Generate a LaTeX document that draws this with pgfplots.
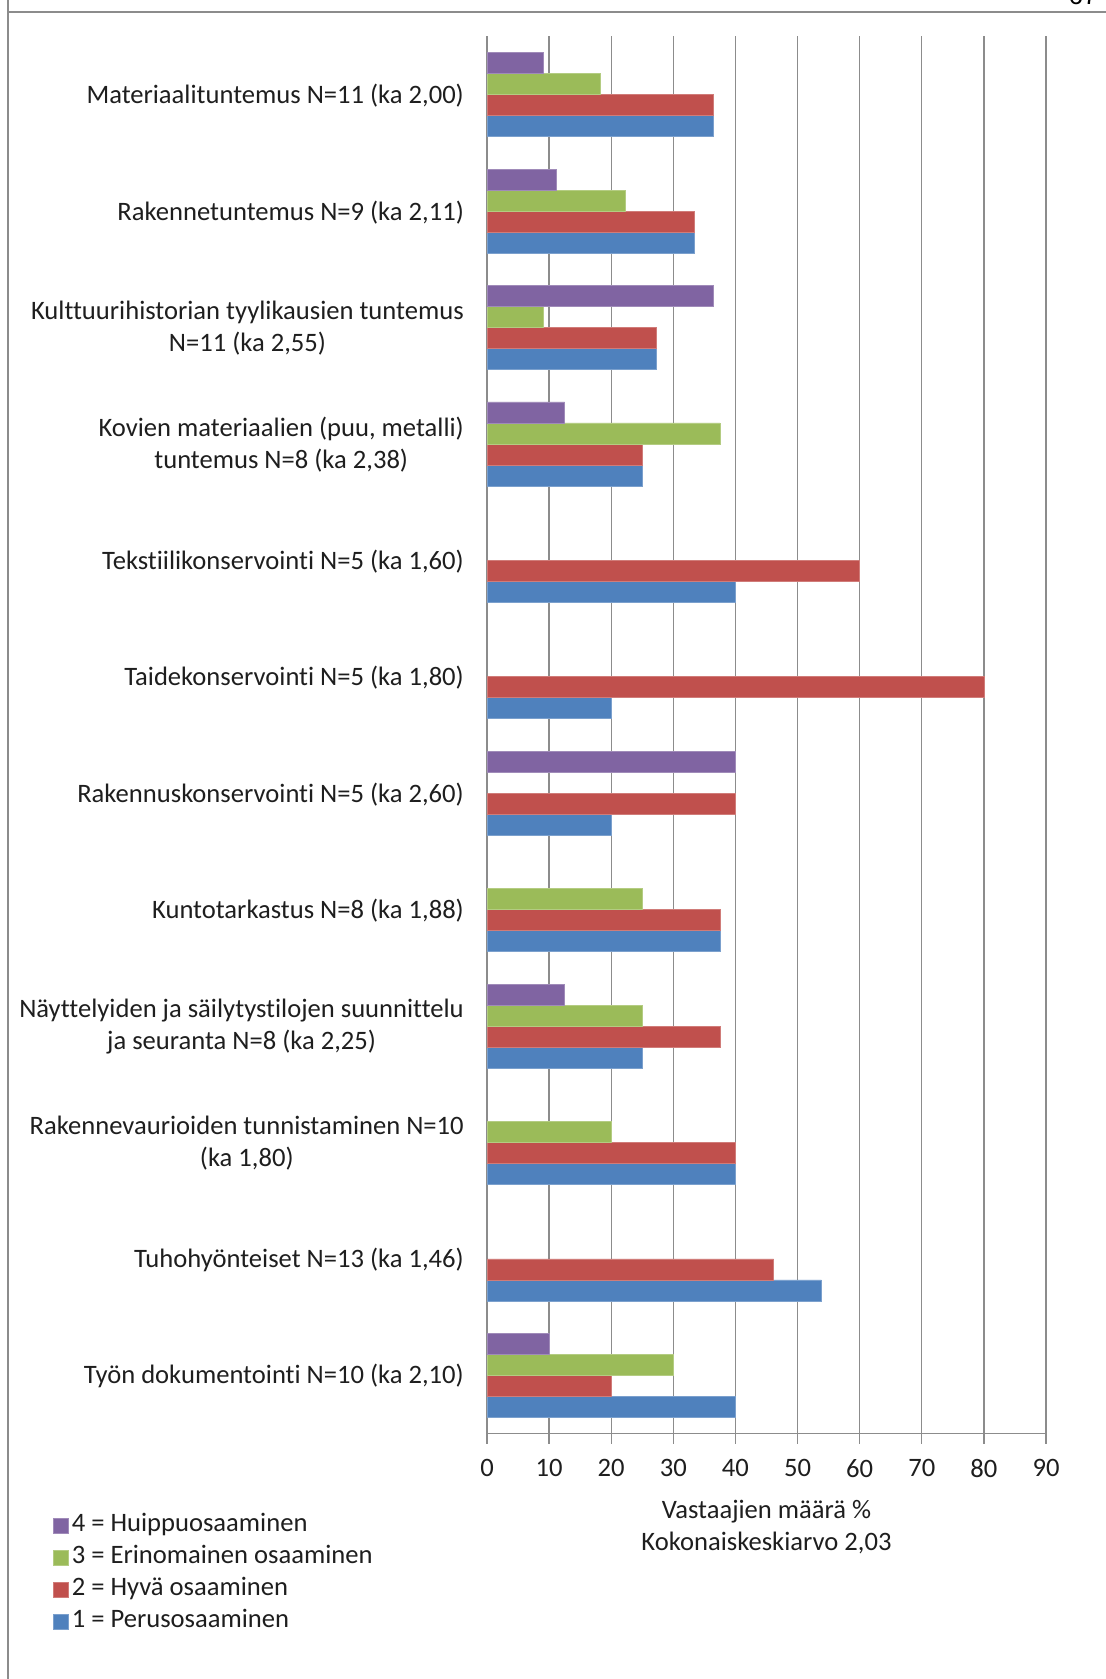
\documentclass[border=0pt]{standalone}
\usepackage{fontspec}
\setmainfont{Carlito}[Ligatures=NoCommon]
\newfontfamily\pagefont{Liberation Sans}
\usepackage{pgfplots}
\pgfplotsset{compat=1.18}

\definecolor{lvl1}{HTML}{4F81BD}
\definecolor{lvl2}{HTML}{C0504D}
\definecolor{lvl3}{HTML}{9BBB59}
\definecolor{lvl4}{HTML}{8064A2}
\definecolor{gridgray}{RGB}{140,140,140}
\definecolor{txt}{RGB}{30,30,30}

\newcommand\chartfont{\fontsize{26.6bp}{32bp}\selectfont}

\pgfplotsset{
  sqlegend/.style={legend image code/.code={%
      \fill[##1] (0bp,-7.5bp) rectangle (15bp,7.5bp);}},
}

\begin{document}
\chartfont
\begin{tikzpicture}
% page frame and page number
\draw[gridgray, line width=2bp] (8bp,1700bp) -- (8bp,1667bp) -- (1130bp,1667bp);
\draw[gridgray, line width=2bp] (8bp,1667bp) -- (8bp,-20bp);
\node[anchor=base, font=\pagefont\fontsize{26bp}{30bp}\selectfont, text=black] at (1083bp,1674bp) {67};

\begin{axis}[
  at={(487bp,245.5bp)}, anchor=south west,
  scale only axis, width=559bp, height=1397bp,
  xbar, bar width=21bp,
  xmin=0, xmax=90, xtick={0,10,...,90},
  ymin=-0.5, ymax=11.5, ytick={0,...,11},
  axis x line*=bottom, axis y line*=left,
  axis line style={gridgray, line width=1.3bp},
  xmajorgrids, grid style={gridgray, line width=1.3bp},
  xtick pos=bottom, tick align=outside, major tick length=10bp,
  xtick style={gridgray, line width=1.3bp},
  ytick style={draw=none},
  /pgf/number format/assume math mode=true,
  tick label style={font=\chartfont, text=txt},
  xticklabel style={yshift=-7bp},
  yticklabel style={align=center, inner sep=0pt, xshift=-13bp, yshift=-1bp},
  yticklabels={
    {Työn dokumentointi N=10 (ka 2,10)},
    {Tuhohyönteiset N=13 (ka 1,46)},
    {Rakennevaurioiden tunnistaminen N=10\\(ka 1,80)},
    {Näyttelyiden ja säilytystilojen suunnittelu\\ja seuranta N=8 (ka 2,25)},
    {Kuntotarkastus N=8 (ka 1,88)},
    {Rakennuskonservointi N=5 (ka 2,60)},
    {Taidekonservointi N=5 (ka 1,80)},
    {Tekstiilikonservointi N=5 (ka 1,60)},
    {Kovien materiaalien (puu, metalli)\\tuntemus N=8 (ka 2,38)},
    {Kulttuurihistorian tyylikausien tuntemus\\N=11 (ka 2,55)},
    {Rakennetuntemus N=9 (ka 2,11)},
    {Materiaalituntemus N=11 (ka 2,00)}},
  xlabel={Vastaajien määrä \%\\Kokonaiskeskiarvo 2,03},
  xlabel style={align=center, font=\chartfont, text=txt, yshift=-4bp},
  reverse legend,
  legend style={at={(-0.7764,-0.057)}, anchor=north west, draw=none, fill=none,
    inner sep=0pt, row sep=8bp,
    font=\chartfont, text=txt,
    nodes={inner xsep=3bp, inner ysep=0bp, text height=18bp, text depth=6bp}},
  legend cell align=left,
]
% 1 = Perusosaaminen
\addplot[fill=lvl1, draw=lvl1!75!white, line width=0.6bp, bar shift=-31.5bp, sqlegend]
  coordinates {(40,0) (53.85,1) (40,2) (25,3) (37.5,4) (20,5) (20,6) (40,7) (25,8) (27.27,9) (33.33,10) (36.36,11)};
% 2 = Hyvä osaaminen
\addplot[fill=lvl2, draw=lvl2!75!white, line width=0.6bp, bar shift=-10.5bp, sqlegend]
  coordinates {(20,0) (46.15,1) (40,2) (37.5,3) (37.5,4) (40,5) (80,6) (60,7) (25,8) (27.27,9) (33.33,10) (36.36,11)};
% 3 = Erinomainen osaaminen
\addplot[fill=lvl3, draw=lvl3!75!white, line width=0.6bp, bar shift=10.5bp, sqlegend]
  coordinates {(30,0) (20,2) (25,3) (25,4) (37.5,8) (9.09,9) (22.22,10) (18.18,11)};
% 4 = Huippuosaaminen
\addplot[fill=lvl4, draw=lvl4!75!white, line width=0.6bp, bar shift=31.5bp, sqlegend]
  coordinates {(10,0) (12.5,3) (40,5) (12.5,8) (36.36,9) (11.11,10) (9.09,11)};
\legend{1 = Perusosaaminen, 2 = Hyvä osaaminen, 3 = Erinomainen osaaminen, 4 = Huippuosaaminen}
\end{axis}
\pgfresetboundingbox
\useasboundingbox (0bp,0bp) rectangle (1106bp,1679bp);
\end{tikzpicture}
\end{document}
